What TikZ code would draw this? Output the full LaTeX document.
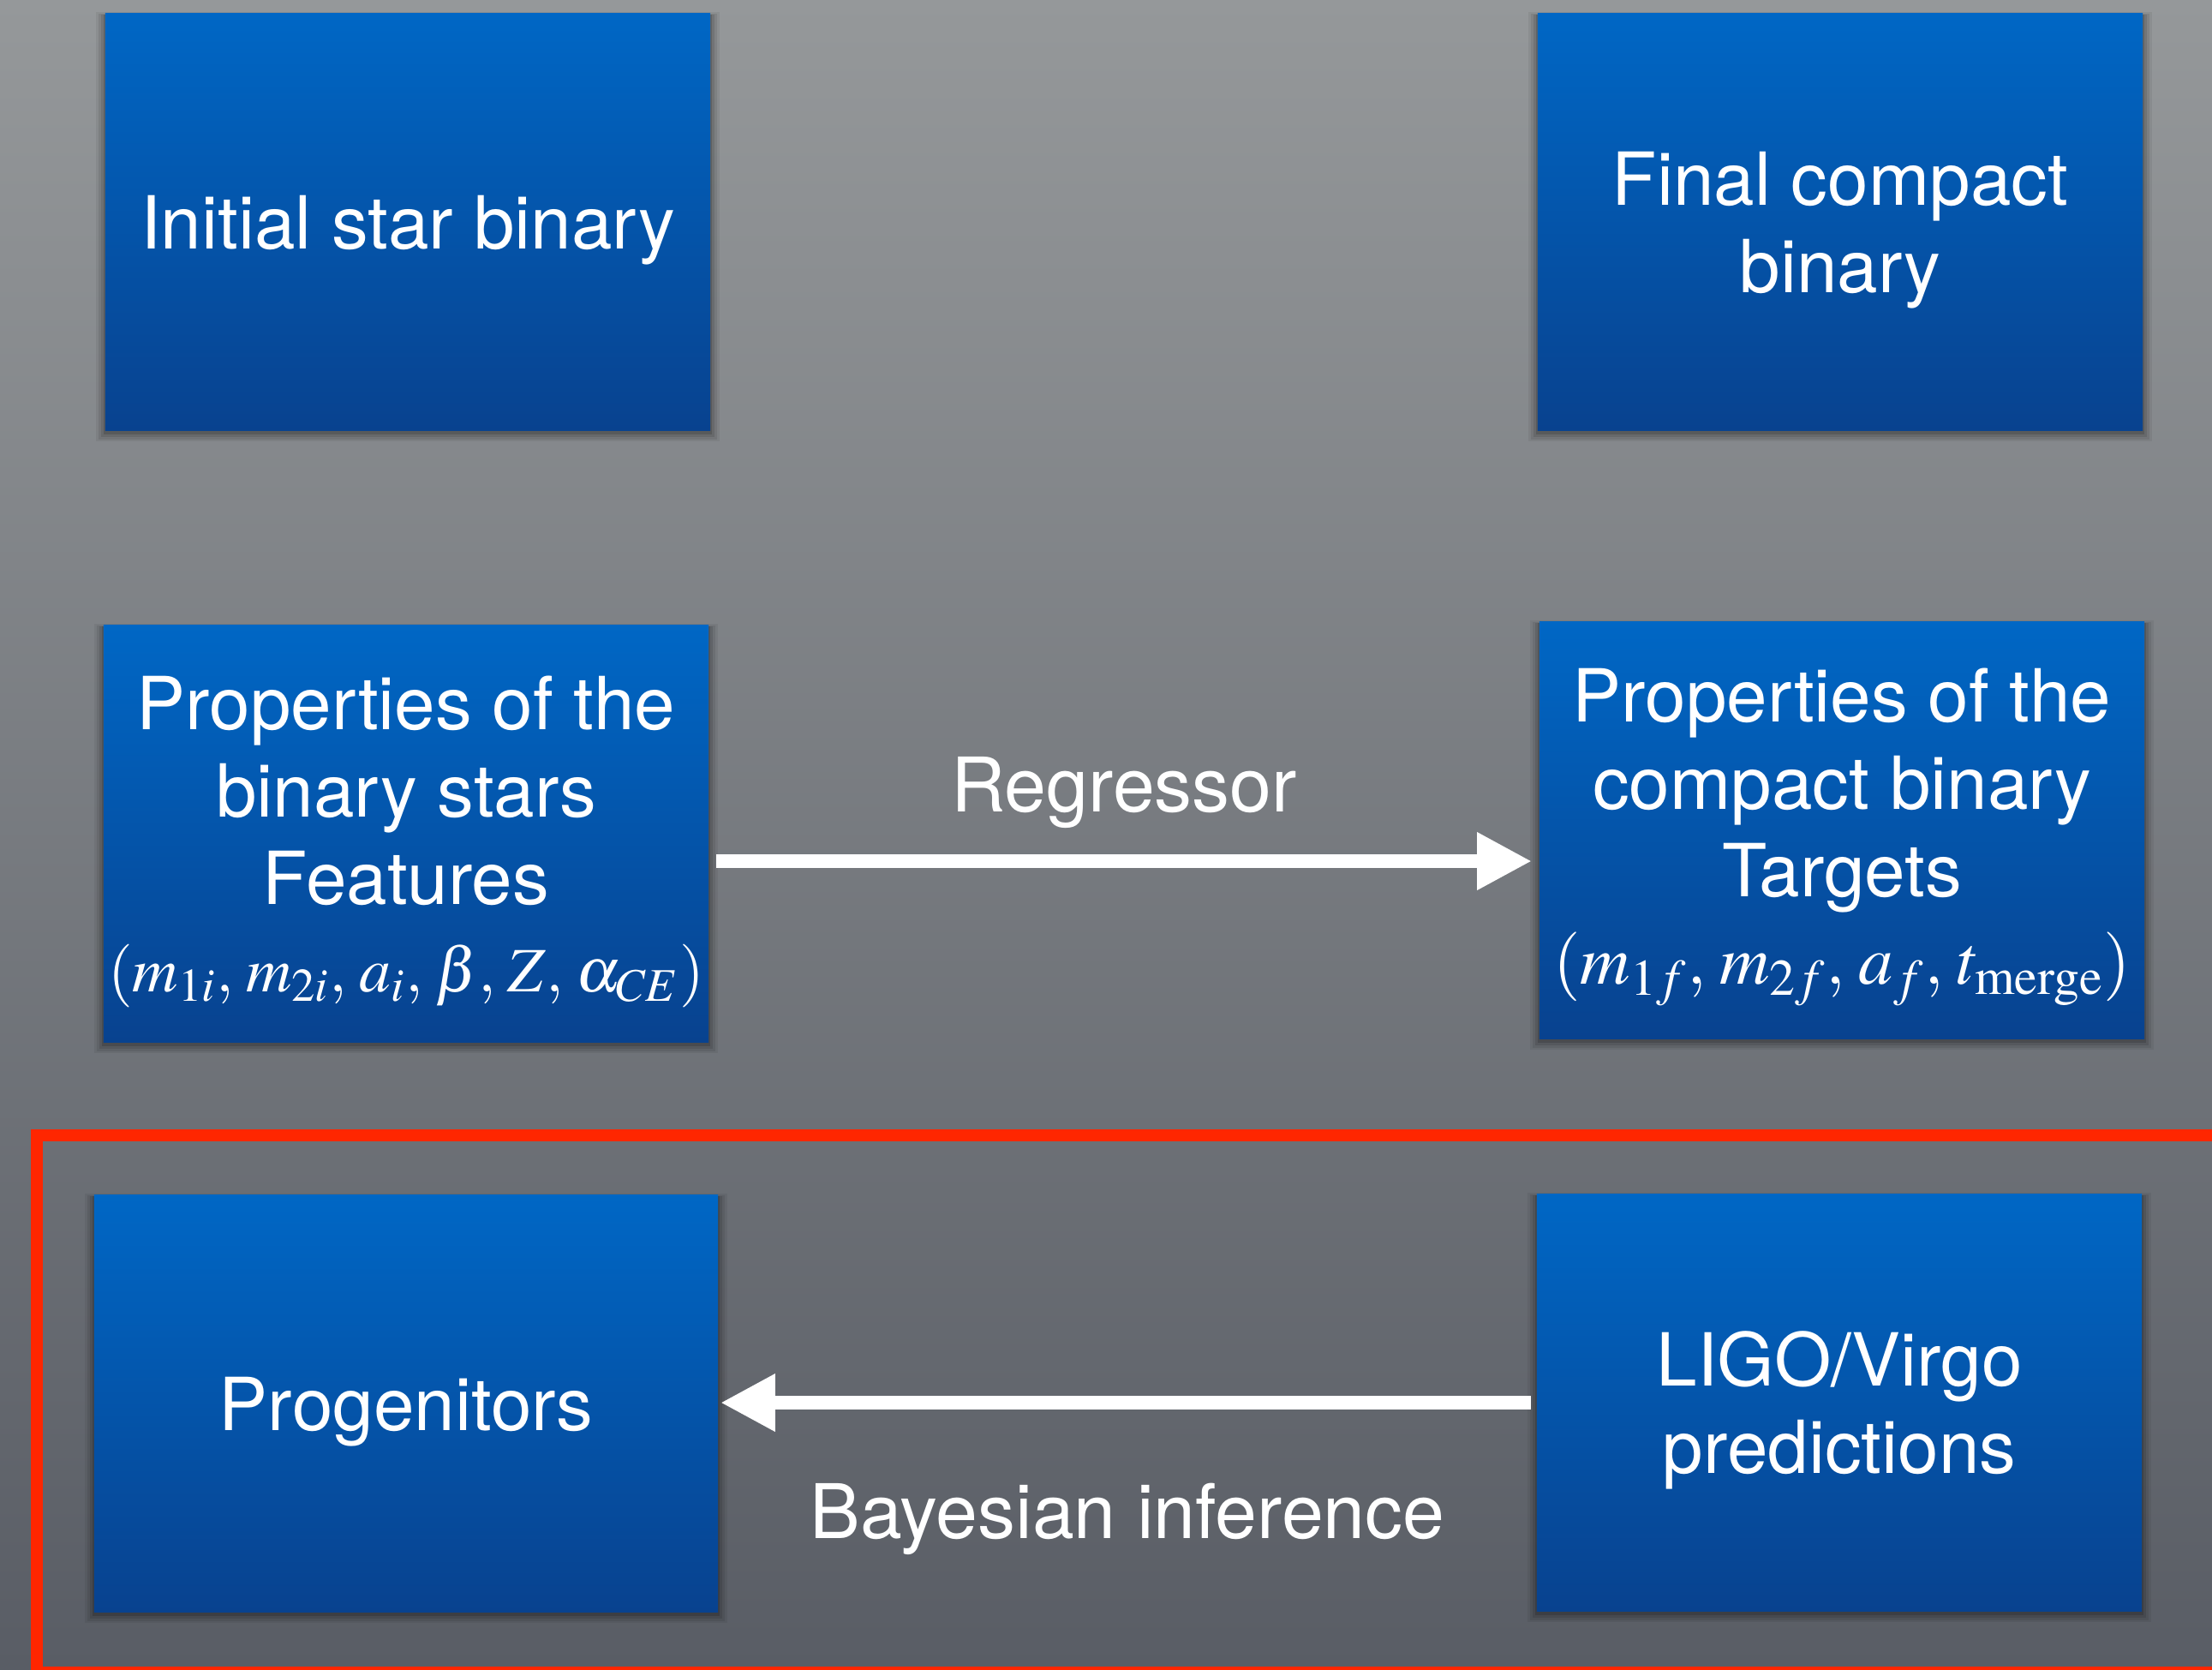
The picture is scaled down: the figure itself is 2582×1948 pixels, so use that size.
\documentclass[tikz,border=0pt]{standalone}
\usepackage{mathptmx}
\usepackage[no-math]{fontspec}
\setmainfont{TeX Gyre Heros}
\usetikzlibrary{arrows.meta,shadows}

\definecolor{fundoTopo}{RGB}{149,152,154}
\definecolor{fundoBase}{RGB}{89,93,101}
\definecolor{caixaTopo}{RGB}{0,103,197}
\definecolor{caixaBase}{RGB}{8,66,143}
\definecolor{moldura}{RGB}{255,38,0}

\tikzset{
  caixa/.style={
    rectangle, top color=caixaTopo, bottom color=caixaBase,
    minimum width=7.06cm, minimum height=4.86cm,
    text=white, align=center, inner sep=0pt, text depth=-0.04cm,
    font=\fontsize{24.3pt}{29pt}\selectfont,
    general shadow={fill=black, opacity=0.06, shadow scale=1.030, shadow yshift=-0.05cm},
    general shadow={fill=black, opacity=0.08, shadow scale=1.022, shadow yshift=-0.05cm},
    general shadow={fill=black, opacity=0.10, shadow scale=1.014, shadow yshift=-0.04cm},
    general shadow={fill=black, opacity=0.14, shadow scale=1.006, shadow yshift=-0.03cm}},
  seta/.style={draw=white, line width=0.16cm, -{Triangle[length=0.64cm, width=0.63cm]}},
  rotulo/.style={text=white, inner sep=0pt, font=\fontsize{25pt}{29pt}\selectfont}
}

\begin{document}
\begin{tikzpicture}[x=0.01cm, y=-0.01cm]
    % Definição dos textos
    \def\txtInicial{Initial star binary}
    \def\txtFinal{Final compact\\binary}
    \def\txtFeat{Properties of the\\binary stars\\Features\\{\fontsize{21pt}{29pt}\selectfont$(m_{1i},\mkern1.5mu m_{2i},\mkern1.5mu a_i,\mkern1.5mu \beta,\mkern1.5mu Z,\mkern1.5mu \alpha_{CE})$}}
    \def\txtTarg{Properties of the\\compact binary\\Targets\\{\fontsize{23pt}{29pt}\selectfont$(m_{1f},\mkern1.5mu m_{2f},\mkern1.5mu a_f,\mkern1.5mu t_{\mathrm{merge}})$}}
    \def\txtProg{Progenitors}
    \def\txtLigo{LIGO/Virgo\\predictions}

    % Fundo
    \useasboundingbox (0,0) rectangle (2582,1948);
    \clip (0,0) rectangle (2582,1948);
    \shade[top color=fundoTopo, bottom color=fundoBase] (0,0) rectangle (2582,1948);

    % Moldura vermelha
    \draw[moldura, line width=0.14cm] (43,1325) rectangle (2620,1952);

    % Caixas
    \node[caixa] (inicial) at (476,259) {\txtInicial};
    \node[caixa] (final) at (2148,259) {\txtFinal};
    \node[caixa] (feat) at (474,973) {\txtFeat};
    \node[caixa, text depth=0.09cm] (targ) at (2150,969) {\txtTarg};
    \node[caixa, minimum width=7.28cm] (prog) at (474,1638) {\txtProg};
    \node[caixa] (ligo) at (2147,1637) {\txtLigo};

    % Setas
    \draw[seta, shorten <=0.08cm, shorten >=0.08cm] ([yshift=-0.32cm]feat.east) -- ([yshift=-0.32cm]feat.east -| targ.west)
      node[midway, above=0.30cm, rotulo] {Regressor};
    \draw[seta, shorten <=0.06cm, shorten >=0.02cm] (ligo.west) -- (ligo.west -| prog.east)
      node[midway, below=0.86cm, rotulo] {Bayesian inference};
\end{tikzpicture}
\end{document}
